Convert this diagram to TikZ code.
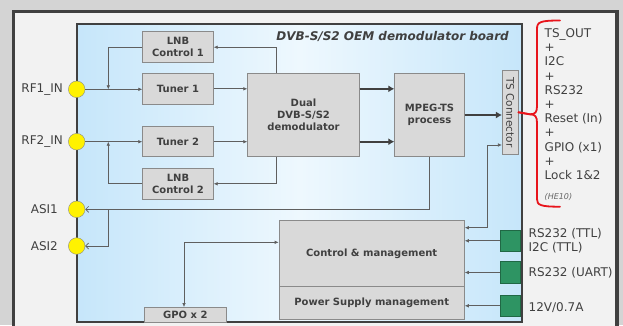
\documentclass[tikz,border=0pt]{standalone}
\usepackage{fontspec}
\setmainfont{DejaVu Sans}
\usepackage{graphicx}
\usepackage{tikz}
\usetikzlibrary{arrows.meta, positioning}
\definecolor{dvbframe}{HTML}{404040}
\definecolor{dvbpage}{HTML}{F2F2F2}
\definecolor{dvbback}{HTML}{D4D4D4}
\definecolor{dvbblue}{HTML}{C6E6FA}
\definecolor{dvblight}{HTML}{EEF8FE}
\definecolor{dvbbox}{HTML}{D9D9D9}
\definecolor{dvbedge}{HTML}{8A8A8A}
\definecolor{dvbtext}{HTML}{404040}
\definecolor{dvbwire}{HTML}{5F5F5F}
\definecolor{dvbgreen}{HTML}{2E9463}
\definecolor{dvbred}{HTML}{E8141B}

\begin{document}
\begin{tikzpicture}[
    x=1pt, y=-1pt,
    block/.style={draw=dvbedge,fill=dvbbox,line width=0.8pt,align=center,inner sep=1pt,text=dvbtext,font=\bfseries\fontsize{10}{12}\selectfont},
    small/.style={block,minimum width=70.6pt,minimum height=31pt},
    port/.style={circle,draw=dvbedge,fill=yellow,minimum size=16.6pt,inner sep=0pt},
    plug/.style={draw=dvbgreen!70!black,fill=dvbgreen,minimum width=20.7pt,minimum height=21.7pt,inner sep=0pt},
    portlabel/.style={text=dvbtext,font=\fontsize{12}{14.2}\selectfont,inner sep=0pt},
    wire/.style={draw=dvbwire,line width=0.7pt,-{Latex[length=4pt,width=3.6pt]}},
    wires/.style={wire,{Latex[length=4pt,width=3.6pt]}-{Latex[length=4pt,width=3.6pt]}},
    bus/.style={draw=dvbframe,line width=2.4pt,-{Latex[length=6pt,width=7pt]}},
    asi/.style={draw=dvbwire,line width=0.7pt,-{Straight Barb[length=3pt,width=6pt]}},
    redbrace/.style={draw=dvbred,line width=1.8pt,line cap=round},
  ]
    \clip (0,0) rectangle (623,325);
    \fill[dvbback] (0,0) rectangle (623,325);
    \draw[dvbframe,line width=3.5pt,fill=dvbpage] (13.5,11.5) rectangle (617,340);
    % board
    \draw[dvbframe,line width=1.6pt,left color=dvbblue,right color=dvbblue,middle color=dvblight] (77,24) rectangle (522,322);
    \node[font=\bfseries\itshape\fontsize{12}{14}\selectfont,text=dvbframe,anchor=east,inner sep=0pt] (title) at (509,36.7) {DVB-S/S2 OEM demodulator board};

    \node[small] (lnbA) at (178,47.2) {LNB\\Control 1};
    \node[small] (tunerA) at (178,88.8) {Tuner 1};
    \node[small,minimum height=30pt] (tunerB) at (178,141.7) {Tuner 2};
    \node[small] (lnbB) at (178,183.8) {LNB\\Control 2};
    \node[block,minimum width=111.6pt,minimum height=83.4pt] (demod) at (303.5,115) {Dual\\DVB-S/S2\\demodulator};
    \node[block,minimum width=69.6pt,minimum height=83.4pt] (mpeg) at (429.5,115) {MPEG-TS\\process};
    \node[block,font=\fontsize{10.5}{12}\selectfont,minimum width=15.7pt,minimum height=84pt] (tsconn) at (510.2,112.3) {\rotatebox{-90}{TS Connector}};
    \node[block,minimum width=185.3pt,minimum height=65.3pt] (ctrl) at (371.7,253.4) {Control \& management};
    \node[block,minimum width=185.3pt,minimum height=32.3pt,below=0pt of ctrl] (power) {Power Supply management};
    \node[block,minimum width=82.7pt,minimum height=14.5pt] (gpo) at (185.3,314.75) {GPO x 2};

    % inputs
    \node[port] (rfA) at (76.7,89.3) {};
    \node[port] (rfB) at (76.7,141.7) {};
    \node[port] (asiA) at (76.7,209.3) {};
    \node[port] (asiB) at (76.7,246) {};
    \node[portlabel,anchor=east] (rfAlabel) at (63,89.3) {RF1\_IN};
    \node[portlabel,anchor=east] (rfBlabel) at (63,141.7) {RF2\_IN};
    \node[portlabel,anchor=east] (asiAlabel) at (58,209.3) {ASI1};
    \node[portlabel,anchor=east] (asiBlabel) at (58,246) {ASI2};

    % connectors on the right
    \node[plug] (plugA) at (510.3,240.8) {};
    \node[plug] (plugB) at (510.3,272.5) {};
    \node[plug] (plugC) at (510.3,305.8) {};
    \node[portlabel,anchor=west,align=left] (plugAlabel) at (528.5,240.8) {RS232 (TTL)\\I2C (TTL)};
    \node[portlabel,anchor=west] (plugBlabel) at (528.5,273) {RS232 (UART)};
    \node[portlabel,anchor=west] (plugClabel) at (528.5,308) {12V/0.7A};

    \node[portlabel,anchor=north west,align=left] (tsout) at (544.5,28.3)
      {TS\_OUT\\+\\I2C\\+\\RS232\\+\\Reset (In)\\+\\GPIO (x1)\\+\\Lock 1\&2};
    \node[font=\itshape\fontsize{8}{9}\selectfont,text=dvbtext!80,anchor=west,inner sep=0pt] (he10) at (544.5,197) {(HE10)};

    \coordinate (feedx) at (108.3,0);
    \coordinate (lnbtap) at (276,0);
    \coordinate (asitap) at (429.3,0);
    \coordinate (tsdrop) at (487.7,145);
    \coordinate (ctrldrop) at (487.7,227.7);
    \coordinate (gpox) at (184,242.3);

    \draw[wire] (rfA.east) -- (rfA.east -| tunerA.west);
    \draw[wire] (rfB.east) -- (rfB.east -| tunerB.west);
    \draw[wire] (lnbA.west) -| (rfA.east -| feedx);
    \draw[wire] (lnbB.west) -| (rfB.east -| feedx);
    \draw[wire] (demod.north -| lnbtap) |- (lnbA.east);
    \draw[wire] (demod.south -| lnbtap) |- (lnbB.east);
    \draw[wire] (tunerA.east) -- (tunerA.east -| demod.west);
    \draw[wire] (tunerB.east) -- (tunerB.east -| demod.west);
    \draw[bus] (demod.east |- tunerA) -- (mpeg.west |- tunerA);
    \draw[bus] (demod.east |- tunerB) -- (mpeg.west |- tunerB);
    \draw[bus] (mpeg.east) -- (mpeg.east -| tsconn.west);
    \draw[asi] (mpeg.south -| asitap) |- (asiA.east);
    \draw[asi] (asiA.east -| feedx) |- (asiB.east);
    \draw[wires] (tsconn.west |- tsdrop) -| (ctrldrop) -- (ctrl.east |- ctrldrop);
    \draw[wires] (ctrl.west |- gpox) -| (gpo.north -| gpox);
    \draw[wire] (plugA.west) -- (plugA.west -| ctrl.east);
    \draw[wire] (plugB.west) -- (plugB.west -| ctrl.east);
    \draw[wire] (plugC.west) -- (plugC.west -| power.east);

    \draw[redbrace] (tsconn.east) -- (530,114.3) .. controls (535.5,114.3) and (537,112) .. (537,106) -- (537,29) .. controls (537,22) and (540,20.5) .. (560,20.5);
    \draw[redbrace] (tsconn.east) -- (530,114.3) .. controls (535.5,114.3) and (537,117) .. (537,123) -- (537,199) .. controls (537,205) and (540,206.7) .. (560,206.7);
\end{tikzpicture}
\end{document}
